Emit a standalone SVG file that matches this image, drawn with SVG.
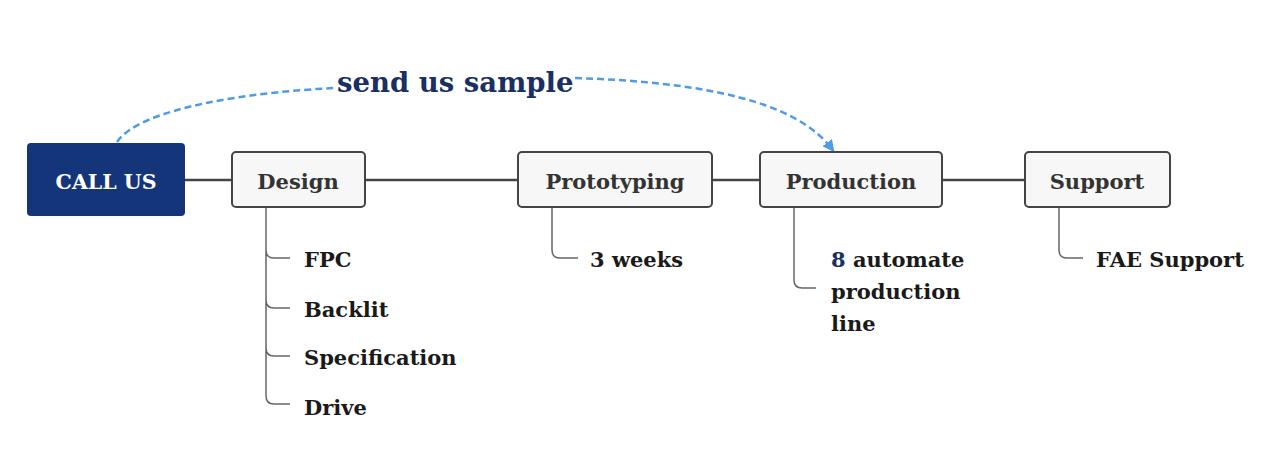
<svg xmlns="http://www.w3.org/2000/svg" width="1280" height="451" viewBox="0 0 1280 451">
<defs>
<style>
.node rect{fill:#f7f7f7;stroke:#444;stroke-width:2}
.lbl{font-family:"DejaVu Serif","Liberation Serif",serif;font-weight:bold;font-size:21px;fill:#333;text-anchor:middle}
.sub{font-family:"DejaVu Serif","Liberation Serif",serif;font-weight:bold;font-size:21px;fill:#1a1a1a}
.main{stroke:#444;stroke-width:2.5;fill:none}
.br{stroke:#666;stroke-width:1.5;fill:none}
.dash{stroke:#4f9be6;stroke-width:2.5;fill:none;stroke-dasharray:7 4}
</style>
<marker id="arr" markerWidth="12" markerHeight="12" refX="8" refY="6" orient="auto" markerUnits="userSpaceOnUse">
<path d="M0,0 L12,6 L0,12 Z" fill="#4f9be6"/>
</marker>
</defs>
<rect width="1280" height="451" fill="#fff"/>
<g id="connectors">
<path class="main" d="M185,180 H232 M365,180 H518 M712,180 H760 M942,180 H1025"/>
<path class="br" d="M266,207 V250 Q266,258 274,258 H290 M266,250 V300 Q266,308 274,308 H290 M266,300 V348 Q266,356 274,356 H290 M266,348 V396 Q266,404 274,404 H290"/>
<path class="br" d="M552,207 V250 Q552,258 560,258 H578"/>
<path class="br" d="M794,207 V280 Q794,288 802,288 H816"/>
<path class="br" d="M1059,207 V250 Q1059,258 1067,258 H1083"/>
<path class="dash" d="M117,142 C140,108 250,92 335,88"/>
<path class="dash" d="M575,78 C700,82 795,100 832,149" marker-end="url(#arr)"/>
</g>
<g id="callus">
<rect x="27" y="143" width="158" height="73" rx="4" fill="#15357a"/>
<text x="106" y="189" font-family="DejaVu Serif,Liberation Serif,serif" font-weight="bold" font-size="20.5" fill="#fff" text-anchor="middle">CALL US</text>
</g>
<g id="design" class="node"><rect x="232" y="152" width="133" height="55" rx="4"/><text class="lbl" x="298" y="189">Design</text></g>
<g id="prototyping" class="node"><rect x="518" y="152" width="194" height="55" rx="4"/><text class="lbl" x="615" y="189">Prototyping</text></g>
<g id="production" class="node"><rect x="760" y="152" width="182" height="55" rx="4"/><text class="lbl" x="851" y="189">Production</text></g>
<g id="support" class="node"><rect x="1025" y="152" width="145" height="55" rx="4"/><text class="lbl" x="1097" y="189">Support</text></g>
<g id="label-send">
<text x="337" y="92" font-family="DejaVu Serif,Liberation Serif,serif" font-weight="bold" font-size="27.5" fill="#1a2f63">send us sample</text>
</g>
<g id="design-items">
<text class="sub" x="304" y="267">FPC</text>
<text class="sub" x="304" y="317">Backlit</text>
<text class="sub" x="304" y="365">Specification</text>
<text class="sub" x="304" y="415">Drive</text>
</g>
<g id="proto-items"><text class="sub" x="590" y="267">3 weeks</text></g>
<g id="prod-items">
<text class="sub" x="831" y="267"><tspan fill="#1a2f63">8</tspan> automate</text>
<text class="sub" x="831" y="299">production</text>
<text class="sub" x="831" y="331">line</text>
</g>
<g id="support-items"><text class="sub" x="1096" y="267">FAE Support</text></g>
</svg>
